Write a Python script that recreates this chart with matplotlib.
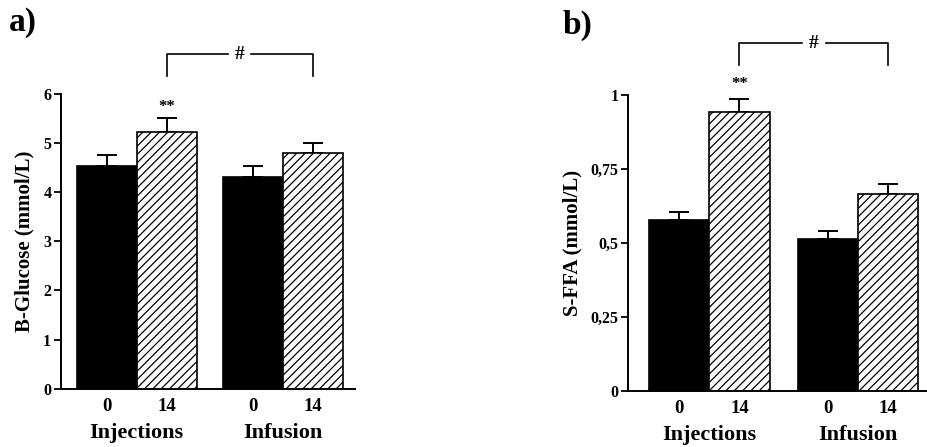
import numpy as np
import matplotlib
matplotlib.use('Agg')
from matplotlib import pyplot as plt

plt.rcParams['font.family'] = ['Liberation Serif', 'DejaVu Serif']
plt.rcParams['font.weight'] = 'bold'
plt.rcParams['hatch.linewidth'] = 0.9

days = ['0', '14', '0', '14']
groups = ['Injections', 'Infusion']

glucose = [4.54, 5.23, 4.32, 4.79]
glucose_sem = [0.21, 0.28, 0.22, 0.22]

ffa = [0.577, 0.943, 0.513, 0.664]
ffa_sem = [0.027, 0.045, 0.026, 0.034]

W, H = 928, 447
fig = plt.figure(figsize=(W / 100, H / 100), dpi=100)


def make_axes(left, right, bottom, top):
    return fig.add_axes([left / W, 1 - bottom / H, (right - left) / W, (bottom - top) / H])


def draw_panel(ax, vals, sem, width, xlim, ylim, yticks, yticklabels, ylabel):
    pos = [1 - width / 2, 1 + width / 2, 2 - width / 2, 2 + width / 2]
    for i in range(4):
        hatched = i % 2 == 1
        ax.bar(pos[i], vals[i], width=width,
               color='white' if hatched else 'black',
               edgecolor='black', linewidth=1.2,
               hatch='////' if hatched else None, zorder=2)
        ax.errorbar(pos[i], vals[i], yerr=[[0], [sem[i]]], fmt='none',
                    ecolor='black', elinewidth=1.4, capsize=7, capthick=1.4, zorder=1)
    ax.set_xlim(*xlim)
    ax.set_ylim(*ylim)
    ax.set_yticks(yticks)
    ax.set_yticklabels(yticklabels, fontsize=11.5, fontweight='bold')
    ax.set_xticks(pos)
    ax.set_xticklabels(days, fontsize=13.5, fontweight='bold')
    ax.tick_params(axis='x', length=0, pad=7)
    ax.tick_params(axis='y', direction='out', length=5, width=1.3, pad=2)
    for s in ['top', 'right']:
        ax.spines[s].set_visible(False)
    for s in ['left', 'bottom']:
        ax.spines[s].set_linewidth(1.4)
    ax.set_ylabel(ylabel, fontsize=15, fontweight='bold', labelpad=6)
    for g, x in zip(groups, [1, 2]):
        ax.text(x, -0.15, g, transform=ax.get_xaxis_transform(),
                ha='center', va='center', fontsize=16, fontweight='bold')
    return pos


# panel a: blood glucose
ax1 = make_axes(61, 355, 388.7, 94)
pos1 = draw_panel(ax1, glucose, glucose_sem, 0.411, (0.482, 2.495), (0, 6),
                  [0, 1, 2, 3, 4, 5, 6], ['0', '1', '2', '3', '4', '5', '6'],
                  'B-Glucose (mmol/L)')

# panel b: serum free fatty acids
ax2 = make_axes(628.3, 926, 390.7, 95)
pos2 = draw_panel(ax2, ffa, ffa_sem, 0.405, (0.453, 2.46), (0, 1),
                  [0, 0.25, 0.5, 0.75, 1], ['0', '0,25', '0,5', '0,75', '1'],
                  'S-FFA (mmol/L)')


def bracket(ax, x0, x1, ytop, ybot):
    tr = ax.get_xaxis_transform()
    mid = (x0 + x1) / 2
    gap = 0.08
    kw = dict(color='black', lw=1.2, transform=tr, clip_on=False)
    ax.plot([x0, x0, mid - gap], [ybot, ytop, ytop], **kw)
    ax.plot([mid + gap, x1, x1], [ytop, ytop, ybot], **kw)
    ax.text(mid, ytop, '#', transform=tr, ha='center', va='center',
            fontsize=14, fontweight='bold')


bracket(ax1, pos1[1], pos1[3], 1.135, 1.06)
ax1.text(pos1[1], glucose[1] + glucose_sem[1] + 0.22, '**', ha='center', va='center',
         fontsize=12, fontweight='bold')

bracket(ax2, pos2[1], pos2[3], 1.175, 1.10)
ax2.text(pos2[1], ffa[1] + ffa_sem[1] + 0.05, '**', ha='center', va='center',
         fontsize=12, fontweight='bold')

fig.text(9 / W, 1 - 22 / H, 'a)', fontsize=24, fontweight='bold', va='center')
fig.text(563 / W, 1 - 25 / H, 'b)', fontsize=24, fontweight='bold', va='center')

fig.savefig('out.png', dpi=100, facecolor='white')
